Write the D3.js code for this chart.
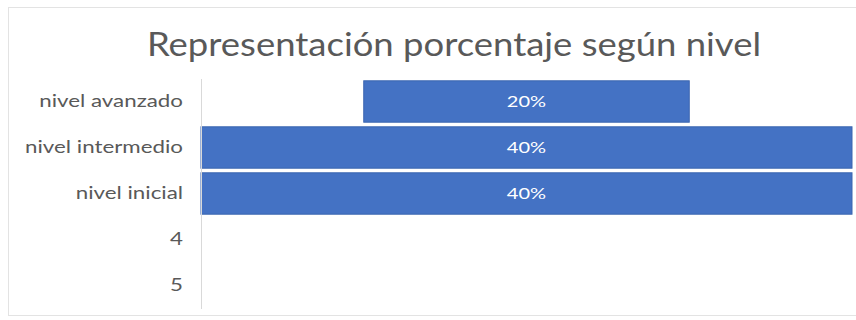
<!DOCTYPE html>
<html>
<head>
<meta charset="utf-8">
<script src="https://cdn.jsdelivr.net/npm/d3@7"></script>
<style>
  html, body { margin: 0; padding: 0; background: #ffffff; }
  svg { display: block; }
  text { font-family: Lato, "Open Sans", sans-serif; }
</style>
</head>
<body>
<div id="chart"></div>
<script>
// Nivel categories, top to bottom, and their share of the total
const categories = ["nivel avanzado", "nivel intermedio", "nivel inicial", "4", "5"];
const values = [0.20, 0.40, 0.40, null, null];
const valueLabels = ["20%", "40%", "40%", null, null];
const chartTitle = "Representación porcentaje según nivel";

const width = 856, height = 320;
const plot = { left: 201, right: 852, top: 78.5, bottom: 308.5 };
const center = (plot.left + plot.right) / 2;

// widen text glyphs horizontally by a factor (wide, Calibri-like lettering)
function widen(sel, factor) {
  sel.each(function () {
    const len = this.getComputedTextLength();
    d3.select(this)
      .attr("textLength", len * factor)
      .attr("lengthAdjust", "spacingAndGlyphs");
  });
}

const svg = d3.select("#chart").append("svg")
  .attr("width", width).attr("height", height);

// chart frame
svg.append("rect")
  .attr("x", 8.5).attr("y", 7.5)
  .attr("width", 870).attr("height", 308)
  .attr("fill", "#ffffff").attr("stroke", "#e3e3e3").attr("stroke-width", 1);

const y = d3.scaleBand()
  .domain(categories)
  .range([plot.top, plot.bottom])
  .paddingInner(0.1)
  .paddingOuter(0.05);

// bar width scale: the largest share spans the full plot width, centered (funnel)
const w = d3.scaleLinear()
  .domain([0, d3.max(values)])
  .range([0, plot.right - plot.left]);

const data = categories.map((c, i) => ({ c, v: values[i], label: valueLabels[i] }))
  .filter(d => d.v != null);

svg.append("g").selectAll("rect")
  .data(data)
  .join("rect")
  .attr("x", d => center - w(d.v) / 2)
  .attr("y", d => y(d.c))
  .attr("width", d => w(d.v))
  .attr("height", y.bandwidth())
  .attr("fill", "#4472c4")
  .attr("stroke", "#3b65b0")
  .attr("stroke-width", 1);

const valueText = svg.append("g").selectAll("text")
  .data(data)
  .join("text")
  .attr("x", center)
  .attr("y", d => y(d.c) + y.bandwidth() / 2)
  .attr("dy", "0.36em")
  .attr("text-anchor", "middle")
  .attr("fill", "#ffffff")
  .attr("font-size", 16)
  .text(d => d.label);
widen(valueText, 1.25);

// category axis
const axis = svg.append("g")
  .attr("transform", `translate(${plot.left},0)`)
  .call(d3.axisLeft(y).tickSize(0).tickPadding(18));
axis.select(".domain").attr("stroke", "#d9d9d9");
const tickText = axis.selectAll("text")
  .attr("font-size", 18)
  .attr("fill", "#595959")
  .style("font-family", "Lato, 'Open Sans', sans-serif");
widen(tickText, 1.24);

// title
const title = svg.append("text")
  .attr("x", 454)
  .attr("y", 56)
  .attr("text-anchor", "middle")
  .attr("font-size", 32)
  .attr("fill", "#595959")
  .text(chartTitle);
widen(title, 1.14);
</script>
</body>
</html>
